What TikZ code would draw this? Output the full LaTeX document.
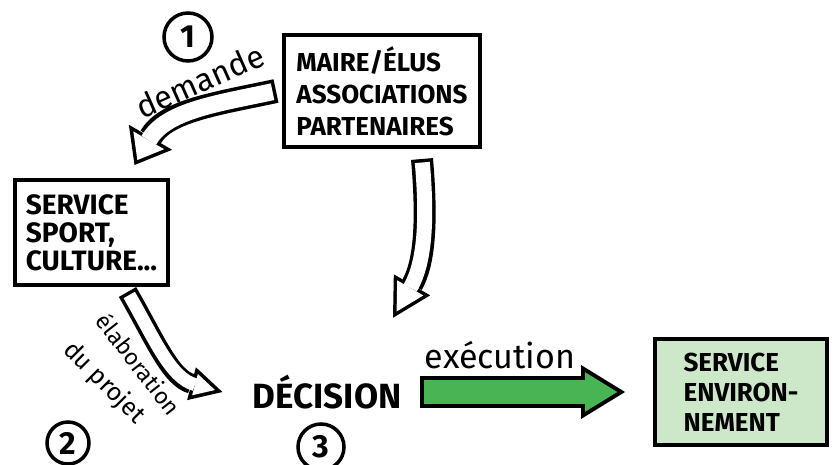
\documentclass[tikz,border=0pt]{standalone}
\usepackage{fontspec}
\setmainfont{Fira Sans}
\usetikzlibrary{arrows.meta, positioning}
\definecolor{envgreen}{RGB}{205,232,200}
\definecolor{arrowgreen}{RGB}{72,180,84}

\begin{document}
\begin{tikzpicture}[x=1pt, y=1pt,
  box/.style={rectangle, draw=black, line width=4pt, align=left, inner sep=0pt},
  num/.style={circle, draw=black, line width=3.5pt, inner sep=0pt, font=\fontsize{32}{32}\selectfont\bfseries},
  lbl/.style={inner sep=0pt},
  outarr/.style n args={3}{draw=black, line width=#1pt, -{Triangle[length=#2pt, width=#3pt, line width=0pt]}},
  inarr/.style n args={4}{draw=white, line width=#1pt, shorten <=3.5pt, shorten >=#4pt, -{Triangle[length=#2pt, width=#3pt, line width=0pt]}}
]
  \fill[white] (0,0) rectangle (834,465);
  \useasboundingbox (0,0) rectangle (834,465);

  % boxes
  \node[box, minimum width=196pt, minimum height=112pt, font=\fontsize{26}{32}\selectfont\bfseries] (maire) at (382,374) {MAIRE/ÉLUS\\ASSOCIATIONS\\PARTENAIRES};
  \node[box, minimum width=153pt, minimum height=105pt, font=\fontsize{28}{28}\selectfont\bfseries] (sport) at (91.5,232.5) {SERVICE\\SPORT,\\CULTURE...};
  \node[box, fill=envgreen, minimum width=172pt, minimum height=106pt, font=\fontsize{26}{30}\selectfont\bfseries] (env) at (741,73) {SERVICE\\ENVIRON-\\NEMENT};
  \node[font=\fontsize{35}{35}\selectfont\bfseries, inner sep=0pt, minimum height=26pt] (dec) at (327,73) {DÉCISION};

  % numbers
  \node[num, minimum size=48pt] (n1) at (188,428) {1};
  \node[num, minimum size=42pt] (n2) at (68,22) {2};
  \node[num, minimum size=46pt] (n3) at (321,18) {3};

  % arrows
  \draw[outarr={24}{32}{50}] ([xshift=-6pt]maire.west) to[out=192, in=60] ([xshift=43pt, yshift=13pt]sport.north);
  \draw[inarr={17}{22.8}{35.6}{5.7}] ([xshift=-6pt]maire.west) to[out=192, in=60] ([xshift=43pt, yshift=13pt]sport.north);

  \draw[outarr={22}{38}{42}] ([xshift=40pt, yshift=-10pt]maire.south) to[out=-85, in=60] ([xshift=66pt, yshift=57pt]dec.north);
  \draw[inarr={15}{27.3}{30.2}{7.2}] ([xshift=40pt, yshift=-10pt]maire.south) to[out=-85, in=60] ([xshift=66pt, yshift=57pt]dec.north);

  \draw[outarr={20}{32}{34}] ([xshift=36pt, yshift=-5pt]sport.south) to[out=-60, in=165] ([xshift=-30pt]dec.west);
  \draw[inarr={13}{20.7}{22}{7.7}] ([xshift=36pt, yshift=-5pt]sport.south) to[out=-60, in=165] ([xshift=-30pt]dec.west);

  \draw[outarr={32}{44}{54}] ([xshift=18pt]dec.east) -- ([xshift=-28pt]env.west);
  \draw[inarr={24}{32.3}{39.6}{7.7}, draw=arrowgreen, shorten <=4pt] ([xshift=18pt]dec.east) -- ([xshift=-28pt]env.west);

  % labels
  \node[lbl, rotate=24, font=\fontsize{32}{32}\selectfont] (dem) at (200,384) {demande};
  \node[lbl, font=\fontsize{34}{34}\selectfont] (exe) at (500,110) {exécution};
  \node[lbl, rotate=-52, font=\fontsize{23}{23}\selectfont] (ela) at (139,101) {élaboration};
  \node[lbl, rotate=-45, font=\fontsize{25}{25}\selectfont] (dup) at (104,82) {du projet};
\end{tikzpicture}
\end{document}
